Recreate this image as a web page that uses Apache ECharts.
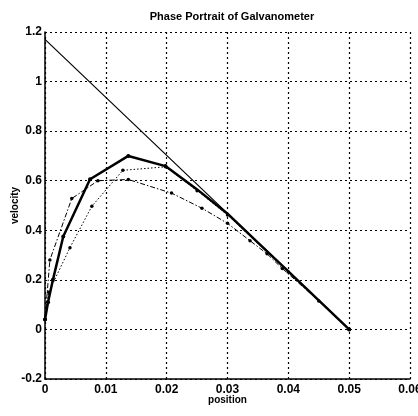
<!DOCTYPE html>
<html>
<head>
<meta charset="utf-8">
<script src="https://cdn.jsdelivr.net/npm/echarts@6/dist/echarts.min.js"></script>
<style>
    html, body { margin: 0; padding: 0; background: #fff; }
    #chart { width: 418px; height: 416px; }
</style>
</head>
<body>
<div id="chart"></div>
<script>
// tick values
const xTicks = [0, 0.01, 0.02, 0.03, 0.04, 0.05, 0.06]
const yTicks = [-0.2, 0, 0.2, 0.4, 0.6, 0.8, 1, 1.2]

// [position, velocity] pairs
const straightLine = [[0, 1.17], [0.05, 0]]
const solidPath = [
    [0, 0.04], [0.0005, 0.11], [0.0013, 0.2], [0.003, 0.375], [0.0074, 0.606],
    [0.0137, 0.70], [0.0198, 0.659], [0.025, 0.565], [0.03, 0.467],
    [0.035, 0.35], [0.04, 0.234], [0.045, 0.117], [0.05, 0],
]
const dottedPath = [
    [0, 0.04], [0.0006, 0.15], [0.0041, 0.33], [0.0077, 0.497], [0.0128, 0.642],
    [0.0198, 0.656], [0.025, 0.56], [0.03, 0.462], [0.04, 0.232], [0.05, 0],
]
const dashDotPath = [
    [0, 0.04], [0.0008, 0.28], [0.0044, 0.528], [0.0087, 0.60], [0.0137, 0.605],
    [0.0208, 0.55], [0.0258, 0.489], [0.03, 0.428], [0.0337, 0.358],
    [0.0365, 0.305], [0.039, 0.246], [0.045, 0.115], [0.05, 0],
]

const font = '"Liberation Sans Narrow", "Liberation Sans", Arial, sans-serif'
const gridLine = { lineStyle: { color: '#000', type: [2, 3], width: 1.2 } }

// markers only where the thick curve bends
const solidData = solidPath.map(p => (p[0] > 0.02 && p[0] < 0.05 ? { value: p, symbol: 'none' } : p))

const chart = echarts.init(document.getElementById('chart'))
chart.setOption({
    animation: false,
    title: {
        text: 'Phase Portrait of Galvanometer',
        left: 227,
        top: 6,
        textAlign: 'center',
        textStyle: { fontFamily: font, fontSize: 11, fontWeight: 'bold', color: '#000' },
    },
    grid: { left: 45, right: 8, top: 32, bottom: 37, outerBoundsMode: 'none' },
    xAxis: {
        type: 'value',
        min: xTicks[0],
        max: xTicks[xTicks.length - 1],
        interval: 0.01,
        name: 'position',
        nameLocation: 'middle',
        nameGap: 16,
        nameMoveOverlap: false,
        nameTextStyle: { fontFamily: font, fontSize: 10, fontWeight: 'bold', color: '#000' },
        axisLine: { show: true, onZero: false, lineStyle: { color: '#000', width: 1.5 } },
        axisTick: { show: false },
        axisLabel: {
            margin: 5,
            color: '#000',
            fontFamily: font,
            fontSize: 12,
            fontWeight: 'bold',
            formatter: v => String(parseFloat(v.toFixed(2))),
        },
        splitLine: gridLine,
    },
    yAxis: {
        type: 'value',
        min: yTicks[0],
        max: yTicks[yTicks.length - 1],
        interval: 0.2,
        name: 'velocity',
        nameLocation: 'middle',
        nameGap: 25,
        nameMoveOverlap: false,
        nameTextStyle: { fontFamily: font, fontSize: 10, fontWeight: 'bold', color: '#000' },
        axisLine: { show: true, onZero: false, lineStyle: { color: '#000', width: 1.5 } },
        axisTick: { show: false },
        axisLabel: {
            margin: 3,
            color: '#000',
            fontFamily: font,
            fontSize: 12,
            fontWeight: 'bold',
            formatter: v => String(parseFloat(v.toFixed(1))),
        },
        splitLine: gridLine,
    },
    series: [
        {
            type: 'line',
            data: straightLine,
            showSymbol: false,
            lineStyle: { color: '#000', width: 1.2 },
        },
        {
            type: 'line',
            data: dottedPath,
            symbol: 'circle',
            symbolSize: 3.5,
            itemStyle: { color: '#000' },
            lineStyle: { color: '#000', width: 1, type: [1.5, 2] },
        },
        {
            type: 'line',
            data: dashDotPath,
            symbol: 'circle',
            symbolSize: 3.5,
            itemStyle: { color: '#000' },
            lineStyle: { color: '#000', width: 1, type: [5, 2, 1.5, 2] },
        },
        {
            type: 'line',
            data: solidData,
            symbol: 'circle',
            symbolSize: 4,
            itemStyle: { color: '#000' },
            lineStyle: { color: '#000', width: 2.5 },
        },
    ],
})
</script>
</body>
</html>
